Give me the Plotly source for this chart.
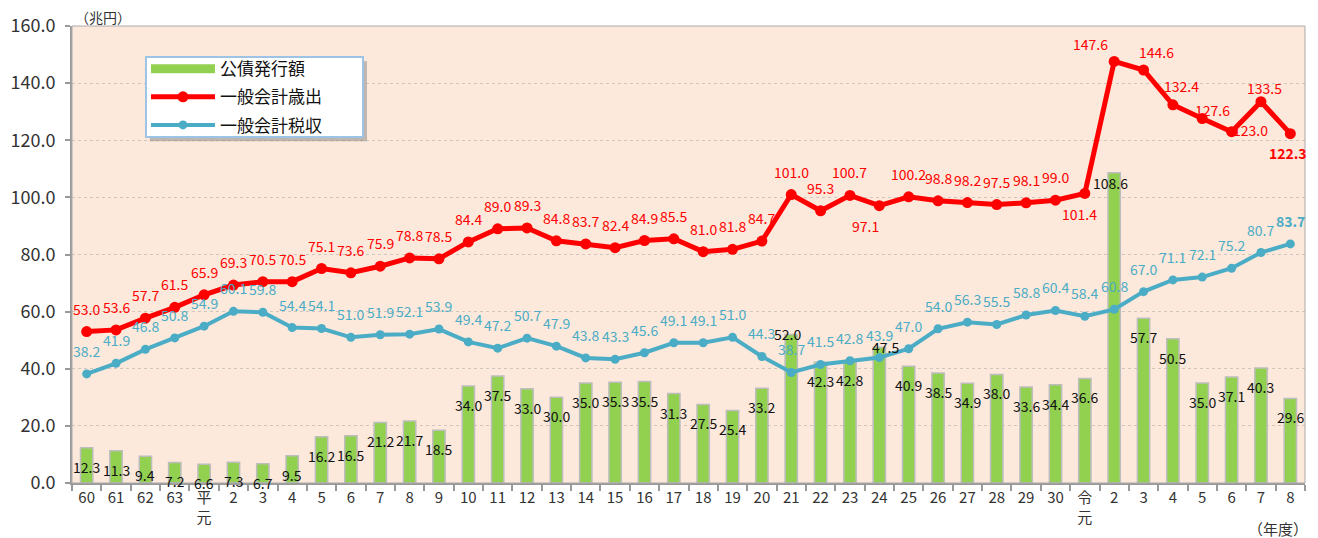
import plotly.graph_objects as go

# ---- data ----
year_labels = ["60", "61", "62", "63", "平<br>元", "2", "3", "4", "5", "6", "7", "8", "9",
               "10", "11", "12", "13", "14", "15", "16", "17", "18", "19", "20", "21",
               "22", "23", "24", "25", "26", "27", "28", "29", "30", "令<br>元",
               "2", "3", "4", "5", "6", "7", "8"]

bond_issuance = [12.3, 11.3, 9.4, 7.2, 6.6, 7.3, 6.7, 9.5, 16.2, 16.5, 21.2, 21.7, 18.5,
                 34.0, 37.5, 33.0, 30.0, 35.0, 35.3, 35.5, 31.3, 27.5, 25.4, 33.2, 52.0,
                 42.3, 42.8, 47.5, 40.9, 38.5, 34.9, 38.0, 33.6, 34.4, 36.6,
                 108.6, 57.7, 50.5, 35.0, 37.1, 40.3, 29.6]

expenditure = [53.0, 53.6, 57.7, 61.5, 65.9, 69.3, 70.5, 70.5, 75.1, 73.6, 75.9, 78.8, 78.5,
               84.4, 89.0, 89.3, 84.8, 83.7, 82.4, 84.9, 85.5, 81.0, 81.8, 84.7, 101.0,
               95.3, 100.7, 97.1, 100.2, 98.8, 98.2, 97.5, 98.1, 99.0, 101.4,
               147.6, 144.6, 132.4, 127.6, 123.0, 133.5, 122.3]

tax_revenue = [38.2, 41.9, 46.8, 50.8, 54.9, 60.1, 59.8, 54.4, 54.1, 51.0, 51.9, 52.1, 53.9,
               49.4, 47.2, 50.7, 47.9, 43.8, 43.3, 45.6, 49.1, 49.1, 51.0, 44.3, 38.7,
               41.5, 42.8, 43.9, 47.0, 54.0, 56.3, 55.5, 58.8, 60.4, 58.4,
               60.8, 67.0, 71.1, 72.1, 75.2, 80.7, 83.7]

y_ticks = [0, 20, 40, 60, 80, 100, 120, 140, 160]

# ---- label offsets (pixels) ----
exp_offsets = {27: (-14, -20), 34: (-5, -21), 35: (-24, 17), 36: (13, 18), 37: (9, 19),
               38: (10, 9), 39: (19, 2), 40: (4, 14), 41: (-2, -19)}
bond_offsets = {24: (-4, 0), 27: (6, 0), 35: (-4, -10)}

RED = "#FF0000"
BLUE = "#4BACC6"
GREEN = "#92D050"
FONT = "Noto Sans CJK JP"

xs = list(range(len(year_labels)))

fig = go.Figure()
fig.add_trace(go.Bar(x=xs, y=bond_issuance, name="公債発行額", width=0.42, showlegend=False,
                     marker=dict(color=GREEN, line=dict(color="#BDBDBD", width=1.5))))
# legend entry for the bars (wide bar swatch)
fig.add_trace(go.Scatter(x=[None], y=[None], name="公債発行額", mode="lines",
                         legendgroup="a", line=dict(color=GREEN, width=9)))
fig.add_trace(go.Scatter(x=xs, y=expenditure, name="一般会計歳出", mode="lines+markers",
                         legendgroup="b",
                         line=dict(color=RED, width=5), marker=dict(size=11, color=RED)))
fig.add_trace(go.Scatter(x=xs, y=tax_revenue, name="一般会計税収", mode="lines+markers",
                         legendgroup="c",
                         line=dict(color=BLUE, width=4), marker=dict(size=9, color=BLUE)))

ann = []
last = len(xs) - 1
for i in xs:
    v = bond_issuance[i]
    dx, dy = bond_offsets.get(i, (0, -19))
    ann.append(dict(x=i, y=v, text=f"{v:.1f}", showarrow=False, xshift=dx, yshift=dy,
                    font=dict(family=FONT, size=14, color="#111")))
    v = expenditure[i]
    dx, dy = exp_offsets.get(i, (0, 23))
    t = f"<b>{v:.1f}</b>" if i == last else f"{v:.1f}"
    ann.append(dict(x=i, y=v, text=t, showarrow=False, xshift=dx, yshift=dy,
                    font=dict(family=FONT, size=14, color=RED)))
    v = tax_revenue[i]
    t = f"<b>{v:.1f}</b>" if i == last else f"{v:.1f}"
    ann.append(dict(x=i, y=v, text=t, showarrow=False, xshift=0, yshift=23,
                    font=dict(family=FONT, size=14, color=BLUE)))

ann.append(dict(xref="paper", yref="paper", x=0.025, y=1.0, yshift=9, text="（兆円）",
                showarrow=False, xanchor="center", yanchor="middle",
                font=dict(family=FONT, size=14, color="#333")))
ann.append(dict(xref="paper", yref="paper", x=0.9785, y=0, yshift=-45, text="（年度）",
                showarrow=False, xanchor="center", yanchor="middle",
                font=dict(family=FONT, size=15, color="#333")))

# page body adds an 8px offset; size the figure so the plot area lands in place
fig.update_layout(
    width=1310, height=530,
    margin=dict(l=64, r=13, t=18, b=55, autoexpand=False),
    paper_bgcolor="white",
    plot_bgcolor="#FCE9DB",
    font=dict(family=FONT, color="#333"),
    annotations=ann,
    showlegend=True,
    legend=dict(x=0.06, y=0.945, xanchor="left", yanchor="top",
                bgcolor="rgba(0,0,0,0)", borderwidth=0,
                font=dict(family=FONT, size=17, color="#111"),
                itemwidth=64, traceorder="grouped", tracegroupgap=3),
    shapes=[
        dict(type="rect", xref="paper", yref="paper", x0=0, x1=1, y0=0, y1=1,
             line=dict(color="#AAAAAA", width=1), layer="above"),
        dict(type="rect", xref="paper", yref="paper", x0=0.0632, x1=0.2392, y0=0.748, y1=0.923,
             line=dict(width=0), fillcolor="rgba(120,120,120,0.45)", layer="above"),
        dict(type="rect", xref="paper", yref="paper", x0=0.0600, x1=0.2360, y0=0.757, y1=0.932,
             line=dict(color="#9DC3E6", width=2), fillcolor="white", layer="above"),
    ],
)

fig.update_xaxes(
    range=[-0.5, len(xs) - 0.5],
    tickmode="array", tickvals=xs, ticktext=year_labels,
    ticks="", showgrid=False, automargin=False,
    showline=True, linecolor="#999999", linewidth=2,
    tickfont=dict(family=FONT, size=15, color="#333"),
    minor=dict(tickmode="array", tickvals=[i - 0.5 for i in range(len(xs) + 1)],
               ticks="outside", ticklen=6, tickcolor="#999999", tickwidth=1.5),
    zeroline=False,
)
fig.update_yaxes(
    range=[0, 160], automargin=False,
    tickmode="array", tickvals=y_ticks, ticktext=[f"{v:.1f}" for v in y_ticks],
    ticks="outside", ticklen=5, tickcolor="#999999", tickwidth=1.5,
    ticklabelstandoff=6,
    showline=True, linecolor="#999999", linewidth=2,
    showgrid=True, gridcolor="#CFC6BE", griddash="dot", gridwidth=1,
    tickfont=dict(family=FONT, size=18, color="#333"),
    zeroline=False,
)

fig.write_html("out.html")
